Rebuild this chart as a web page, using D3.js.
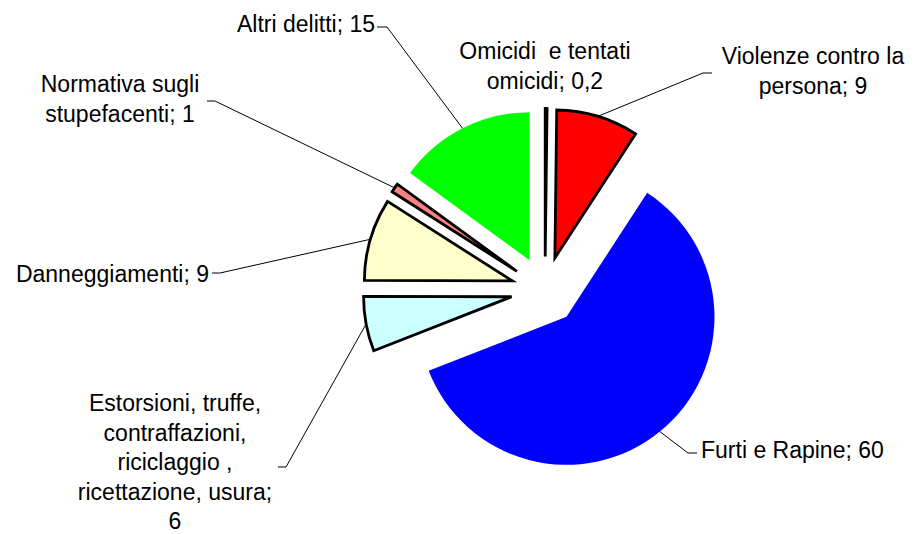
<!DOCTYPE html>
<html>
<head>
<meta charset="utf-8">
<script src="https://cdn.jsdelivr.net/npm/d3@7"></script>
<style>
  body { margin: 0; background: #fff; }
  svg text { font-family: "Liberation Sans", Arial, sans-serif; white-space: pre; }
</style>
</head>
<body>
<div id="grafico"></div>
<script>
// dati
const categorie = [
  "Omicidi e tentati omicidi",
  "Violenze contro la persona",
  "Furti e Rapine",
  "Estorsioni, truffe, contraffazioni, riciclaggio, ricettazione, usura",
  "Danneggiamenti",
  "Normativa sugli stupefacenti",
  "Altri delitti"
];
const valori = [0.2, 9, 60, 6, 9, 1, 15];
const etichette = [
  ["Omicidi  e tentati", "omicidi; 0,2"],
  ["Violenze contro la", "persona; 9"],
  ["Furti e Rapine; 60"],
  ["Estorsioni, truffe,", "contraffazioni,", "riciclaggio ,", "ricettazione, usura;", "6"],
  ["Danneggiamenti; 9"],
  ["Normativa sugli", "stupefacenti; 1"],
  ["Altri delitti; 15"]
];

// stile
const colori = ["#000000", "#FF0000", "#0000FF", "#CCFFFF", "#FFFFCC", "#FF8080", "#00FF00"];
const conBordo = [true, true, false, true, true, true, false];

// posizione delle etichette (x, y prima riga, ancora, gomito, fine linea)
const posEtichette = [
  { x: 545, y: 59, anchor: "middle", gomito: null },
  { x: 813, y: 64, anchor: "middle", gomito: [703, 73], fine: [712, 73] },
  { x: 701, y: 458, anchor: "start", gomito: [688, 453], fine: [697, 453] },
  { x: 175, y: 411, anchor: "middle", gomito: [286, 467], fine: [278, 467] },
  { x: 209, y: 282, anchor: "end", gomito: [220, 273], fine: [212, 273] },
  { x: 120, y: 92, anchor: "middle", gomito: [215, 101], fine: [207, 101] },
  { x: 375, y: 32, anchor: "end", gomito: [387, 27], fine: [377, 27] }
];

const larghezza = 914, altezza = 534;
const centroX = 545, centroY = 290.5;
const raggio = 148;
const esplosione = 34;
const interlinea = 29.5;

const svg = d3.select("#grafico")
  .append("svg")
  .attr("width", larghezza)
  .attr("height", altezza);

const torta = d3.pie().sort(null).value(d => d)(valori);
const arco = d3.arc().innerRadius(0).outerRadius(raggio);

const medio = d => (d.startAngle + d.endAngle) / 2;

const g = svg.append("g").attr("transform", `translate(${centroX},${centroY})`);

g.selectAll("path.fetta")
  .data(torta)
  .join("path")
  .attr("class", "fetta")
  .attr("transform", d => {
    const a = medio(d);
    return `translate(${esplosione * Math.sin(a)},${-esplosione * Math.cos(a)})`;
  })
  .attr("d", arco)
  .attr("fill", (d, i) => colori[i])
  .attr("stroke", (d, i) => conBordo[i] ? "#000" : "none")
  .attr("stroke-width", 2.8)
  .attr("stroke-linejoin", "miter");

// linee guida
torta.forEach((d, i) => {
  const p = posEtichette[i];
  if (!p.gomito) return;
  const a = medio(d);
  const r = raggio + esplosione;
  const x0 = centroX + r * Math.sin(a), y0 = centroY - r * Math.cos(a);
  svg.append("polyline")
    .attr("points", `${x0},${y0} ${p.gomito[0]},${p.gomito[1]} ${p.fine[0]},${p.fine[1]}`)
    .attr("fill", "none")
    .attr("stroke", "#000")
    .attr("stroke-width", 1);
});

// etichette
etichette.forEach((righe, i) => {
  const p = posEtichette[i];
  const t = svg.append("text")
    .attr("x", p.x)
    .attr("y", p.y)
    .attr("text-anchor", p.anchor)
    .attr("font-size", 23)
    .attr("fill", "#000");
  righe.forEach((r, k) => {
    t.append("tspan")
      .attr("x", p.x)
      .attr("y", p.y + k * interlinea)
      .text(r);
  });
});
</script>
</body>
</html>
